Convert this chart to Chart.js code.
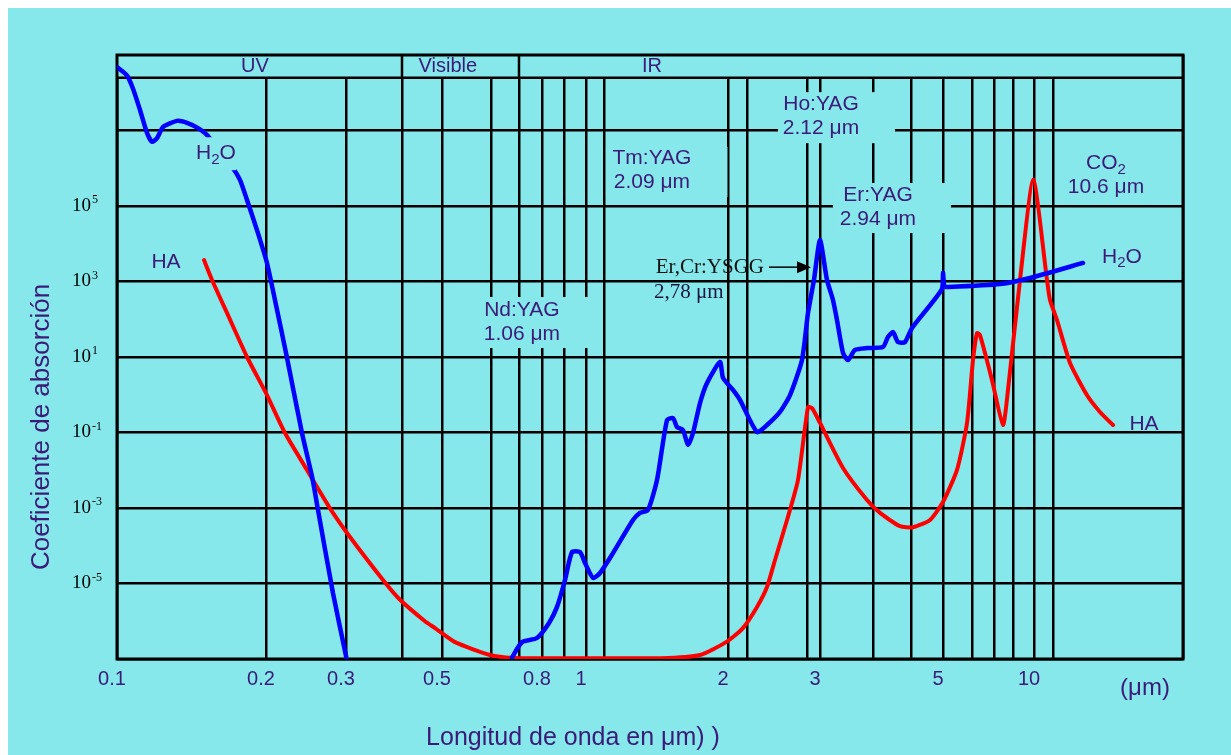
<!DOCTYPE html>
<html>
<head>
<meta charset="utf-8">
<script src="https://cdn.jsdelivr.net/npm/chart.js@4.4.1/dist/chart.umd.min.js"></script>
<style>
    html, body { margin: 0; padding: 0; background: #ffffff; }
    canvas { display: block; }
</style>
</head>
<body>
<canvas id="myChart" width="1231" height="755"></canvas>
<script>
// wavelength (um) and absorption coefficient
const h2o_wl = [0.1, 0.1047, 0.1077, 0.1113, 0.115, 0.1177, 0.1205, 0.1239, 0.1322, 0.1385, 0.1458, 0.152,
    0.1715, 0.1772, 0.1831, 0.1918, 0.201, 0.2093, 0.2223, 0.24, 0.2527, 0.2603, 0.2808, 0.301,
    0.5,
    0.6735, 0.7122, 0.777, 0.8306, 0.867, 0.9043, 0.935, 0.9717, 0.9953, 1.0229, 1.0464, 1.11,
    1.2297, 1.2746, 1.3279, 1.3905, 1.4636, 1.5092, 1.5404, 1.5885, 1.6297, 1.6719, 1.7329, 1.7962,
    1.9199, 1.9496, 2.0257, 2.0623, 2.2006, 2.3058, 2.4503, 2.5677, 2.7157, 2.7963, 2.896, 3.0,
    3.116, 3.219, 3.29, 3.399, 3.492, 3.628, 3.872, 4.126, 4.19, 4.256, 4.322, 4.417, 4.515,
    4.98, 5.0, 5.04, 5.127, 7.3, 9.89, 12.27];
const h2o_abs = [4.8e8, 2.9e8, 1.3e8, 3.5e7, 8.6e6, 5.0e6, 6.3e6, 1.24e7, 1.8e7, 1.6e7, 1.16e7, 7.6e6,
    1.0e6, 4.9e5, 1.44e5, 2.3e4, 3.1e3, 324, 10, 0.097, 6.6e-3, 8.9e-4, 5.6e-6, 1.0e-7,
    null,
    1.1e-7, 2.8e-7, 3.6e-7, 9.0e-7, 2.4e-6, 1.24e-5, 6.8e-5, 6.8e-5, 3.5e-5, 1.4e-5, 1.9e-5, 6.4e-5,
    4.8e-4, 7.4e-4, 8.9e-4, 5.5e-3, 0.214, 0.242, 0.14, 0.116, 0.047, 0.097, 0.6, 2.05,
    7.4, 2.8, 1.34, 0.73, 0.103, 0.158, 0.35, 0.98, 8.3, 147, 1.1e3, 1.26e4,
    1.1e3, 324, 95, 12.8, 8.3, 15.4, 17.3, 18.4, 33.9, 45.9, 24.9, 24.9, 58.6,
    620, 1.7e3, 740, 714, 860, 1.3e3, 3.1e3];

const ha_wl = [0.1499, 0.1556, 0.1668, 0.1831, 0.201, 0.2202, 0.2462, 0.259, 0.2808, 0.3062,
    0.3628, 0.396, 0.4547, 0.4809, 0.5248, 0.598, 0.681, 1.04, 1.419, 1.7329, 1.98, 2.078, 2.2006,
    2.3058, 2.394, 2.532, 2.665, 2.7963, 2.8626, 3.0, 3.399, 3.872, 4.088, 4.349, 4.53, 4.791, 5.0,
    5.46, 5.815, 6.042, 6.214, 6.346, 6.902, 7.457, 7.724, 8.618, 9.92, 10.407, 10.503, 10.81,
    11.52, 12.51, 13.33, 14.21];
const ha_abs = [3.7e3, 1.1e3, 147, 10, 0.98, 0.097, 0.0102, 3.6e-3, 7.4e-4, 1.7e-4,
    1.24e-5, 3.7e-6, 1.0e-6, 6.6e-7, 2.8e-7, 1.28e-7, 1.06e-7, 1.05e-7, 1.05e-7, 1.28e-7, 2.8e-7, 6.6e-7, 2.4e-6,
    8.1e-6, 4.2e-5, 4.8e-4, 5.5e-3, 0.47, 0.445, 0.179, 0.0115, 1.63e-3, 7.4e-4, 3.3e-4, 3.1e-4, 4.8e-4, 1.44e-3,
    0.0102, 0.179, 8.3, 43, 38, 2.46, 0.158, 1.34, 1.1e3, 5.0e5, 1.1e3, 324, 95,
    6.9, 0.98, 0.35, 0.158];

const x_grid = [0.1, 0.2, 0.3, 0.4, 0.5, 0.6, 0.7, 0.8, 0.9, 1, 1.06, 2, 2.1, 2.78, 3, 4, 4.5,
    5, 6, 7, 8, 10, 10.6, 20];
const x_tick_values = [0.1, 0.2, 0.3, 0.5, 0.8, 1, 2, 3, 5, 10];
const x_tick_labels = ['0.1', '0.2', '0.3', '0.5', '0.8', '1', '2', '3', '5', '10'];

const y_grid = [1e-7, 1e-5, 1e-3, 1e-1, 1e1, 1e3, 1e5, 1e7, 1e9];
const y_tick_values = [1e5, 1e3, 1e1, 1e-1, 1e-3, 1e-5];
const y_tick_exps = ['5', '3', '1', '-1', '-3', '-5'];

const band_names = ['UV', 'Visible', 'IR'];
const band_label_at = [0.19, 0.511, 1.355];
const band_edges = [0.4, 0.7];
const band_floor = 2.5e8;

const ink = '#3b1a78';
const panel = '#86e8ea';
const sans = '"Liberation Sans", Arial, sans-serif';
const serif = '"Liberation Serif", "Times New Roman", serif';

// the drawn axis is not a clean log axis, so bend it through these knots
// (value, position along a 1066 wide axis)
const axis_knots = [
    [0.1, 0], [0.2, 149], [0.3, 229], [0.4, 285], [0.5, 325], [0.6, 374], [0.7, 402],
    [0.8, 425], [0.9, 447], [1, 469], [1.06, 487], [2, 611], [2.1, 630], [2.78, 690],
    [3, 703], [4, 756], [4.5, 794], [5, 826], [6, 855], [7, 877], [8, 896],
    [10, 917], [10.6, 936], [20, 1066]
];
const axis_len = 1066;

function warp(v) {
    let i = 0;
    while (i < axis_knots.length - 2 && v > axis_knots[i + 1][0]) i++;
    const [v0, p0] = axis_knots[i];
    const [v1, p1] = axis_knots[i + 1];
    const t = (Math.log10(v) - Math.log10(v0)) / (Math.log10(v1) - Math.log10(v0));
    return (p0 + t * (p1 - p0)) / axis_len;
}

function unwarp(d) {
    const p = d * axis_len;
    let i = 0;
    while (i < axis_knots.length - 2 && p > axis_knots[i + 1][1]) i++;
    const [v0, p0] = axis_knots[i];
    const [v1, p1] = axis_knots[i + 1];
    const t = (p - p0) / (p1 - p0);
    return Math.pow(10, Math.log10(v0) + t * (Math.log10(v1) - Math.log10(v0)));
}

class WarpedLogScale extends Chart.LogarithmicScale {
    static id = 'warpedLog';
    static defaults = Chart.LogarithmicScale.defaults;

    getPixelForValue(value) {
        if (value === null || value === undefined || isNaN(value)) return NaN;
        return this.getPixelForDecimal(warp(value));
    }

    getValueForPixel(pixel) {
        return unwarp(this.getDecimalForPixel(pixel));
    }
}
Chart.register(WarpedLogScale);

// text notes on the plot; box = area wiped clean behind the text (px around the anchor)
const notes = [
    { text: ['H_2O'], x: 0.1585, y: 2.5e6, box: [-18, -16, 20, 17] },
    { text: ['HA'], x: 0.1256, y: 3.3e3 },
    { text: ['Nd:YAG', '1.06 \u03bcm'], x: 0.712, y: 84.5, box: [-42, -25, 73, 26] },
    { text: ['Tm:YAG', '2.09 \u03bcm'], x: 1.355, y: 9.0e5, box: [-46, -23, 75.5, 27] },
    { text: ['Ho:YAG', '2.12 \u03bcm'], x: 3.016, y: 2.4e7, box: [-43, -24, 74, 27] },
    { text: ['Er:YAG', '2.94 \u03bcm'], x: 4.062, y: 9.4e4, box: [-45, -24, 73, 26] },
    { text: ['CO_2', '10.6 \u03bcm'], x: 13.73, y: 6.6e5 },
    { text: ['H_2O'], x: 14.85, y: 4.5e3 },
    { text: ['HA'], x: 16.53, y: 0.168 }
];

function rich_text(ctx, str, x, y, size, family, color, align) {
    // '_' makes the next character a subscript
    let parts = [];
    for (let i = 0; i < str.length; i++) {
        if (str[i] === '_' && i + 1 < str.length) {
            parts.push({ t: str[i + 1], sub: true });
            i++;
        } else if (parts.length && !parts[parts.length - 1].sub) {
            parts[parts.length - 1].t += str[i];
        } else {
            parts.push({ t: str[i], sub: false });
        }
    }
    let total = 0;
    for (let p of parts) {
        ctx.font = (p.sub ? Math.round(size * 0.7) : size) + 'px ' + family;
        p.w = ctx.measureText(p.t).width;
        total += p.w;
    }
    let cx = align === 'left' ? x : (align === 'right' ? x - total : x - total / 2);
    ctx.fillStyle = color;
    ctx.textAlign = 'left';
    ctx.textBaseline = 'middle';
    for (let p of parts) {
        ctx.font = (p.sub ? Math.round(size * 0.7) : size) + 'px ' + family;
        ctx.fillText(p.t, cx, p.sub ? y + size * 0.3 : y);
        cx += p.w;
    }
}

function stroke_line(ctx, x0, y0, x1, y1) {
    ctx.beginPath();
    ctx.moveTo(x0, y0);
    ctx.lineTo(x1, y1);
    ctx.stroke();
}

const frame_plugin = {
    id: 'frame',
    beforeDraw(chart) {
        const ctx = chart.ctx;
        ctx.save();
        ctx.fillStyle = '#ffffff';
        ctx.fillRect(0, 0, chart.width, chart.height);
        ctx.fillStyle = panel;
        ctx.fillRect(8, 8, chart.width - 8, chart.height - 8);
        ctx.restore();
    },
    beforeDatasetsDraw(chart) {
        const { ctx, chartArea: a, scales: { x, y } } = chart;
        const band_y = y.getPixelForValue(band_floor);
        ctx.save();
        ctx.fillStyle = panel;
        ctx.fillRect(a.left, a.top, a.right - a.left, band_y - a.top);
        ctx.strokeStyle = '#000';
        ctx.lineWidth = 2.5;
        stroke_line(ctx, a.left, band_y, a.right, band_y);
        for (let v of band_edges) {
            const px = x.getPixelForValue(v);
            stroke_line(ctx, px, a.top, px, band_y);
        }
        ctx.lineWidth = 3;
        ctx.strokeRect(a.left, a.top, a.right - a.left, a.bottom - a.top);
        for (let i = 0; i < band_names.length; i++) {
            rich_text(ctx, band_names[i], x.getPixelForValue(band_label_at[i]),
                (a.top + band_y) / 2, 20, sans, ink, 'center');
        }
        ctx.restore();
    },
    afterDatasetsDraw(chart) {
        const { ctx, chartArea: a, scales: { x, y } } = chart;
        ctx.save();

        for (let n of notes) {
            const px = x.getPixelForValue(n.x);
            const py = y.getPixelForValue(n.y);
            if (n.box) {
                ctx.fillStyle = panel;
                ctx.fillRect(px + n.box[0], py + n.box[1], n.box[2] - n.box[0], n.box[3] - n.box[1]);
            }
            const first = py - (n.text.length - 1) * 12;
            n.text.forEach((t, i) => rich_text(ctx, t, px, first + i * 24, 21, sans, ink, 'center'));
        }

        // Er,Cr:YSGG pointer at 2.78 um
        const tip_x = x.getPixelForValue(2.78) + 4;
        const tip_y = y.getPixelForValue(2.4e3);
        ctx.strokeStyle = '#000';
        ctx.fillStyle = '#000';
        ctx.lineWidth = 1.5;
        stroke_line(ctx, tip_x - 42, tip_y, tip_x - 12, tip_y);
        ctx.beginPath();
        ctx.moveTo(tip_x, tip_y);
        ctx.lineTo(tip_x - 14, tip_y - 6);
        ctx.lineTo(tip_x - 14, tip_y + 6);
        ctx.closePath();
        ctx.fill();
        rich_text(ctx, 'Er,Cr:YSGG', tip_x - 47, tip_y, 21, serif, '#111111', 'right');
        rich_text(ctx, '2,78 \u03bcm', tip_x - 157, tip_y + 25, 21, serif, '#1c1440', 'left');

        // tick labels
        for (let i = 0; i < x_tick_values.length; i++) {
            rich_text(ctx, x_tick_labels[i], x.getPixelForValue(x_tick_values[i]) - 5,
                a.bottom + 20, 20, sans, ink, 'center');
        }
        rich_text(ctx, '(\u03bcm)', a.right - 38, a.bottom + 29, 24, sans, ink, 'center');

        ctx.textAlign = 'left';
        ctx.textBaseline = 'middle';
        for (let i = 0; i < y_tick_values.length; i++) {
            const py = y.getPixelForValue(y_tick_values[i]);
            ctx.fillStyle = '#000';
            ctx.font = '19px ' + serif;
            ctx.fillText('10', 72, py);
            const w = ctx.measureText('10').width;
            ctx.font = '12px ' + serif;
            ctx.fillText(y_tick_exps[i], 72 + w + 1, py - 6);
        }

        // axis titles
        rich_text(ctx, 'Longitud de onda en \u03bcm) )', 573, a.bottom + 79, 25, sans, ink, 'center');
        ctx.translate(42, (a.top + a.bottom) / 2 + 70);
        ctx.rotate(-Math.PI / 2);
        rich_text(ctx, 'Coeficiente de absorción', 0, 0, 26, sans, ink, 'center');
        ctx.restore();
    }
};

function to_points(xs, ys) {
    return xs.map((v, i) => ({ x: v, y: ys[i] }));
}

const config = {
    type: 'line',
    data: {
        datasets: [
            {
                label: 'H2O',
                data: to_points(h2o_wl, h2o_abs),
                borderColor: '#0000ff',
                borderWidth: 4.5,
                spanGaps: false
            },
            {
                label: 'HA',
                data: to_points(ha_wl, ha_abs),
                borderColor: '#ff0000',
                borderWidth: 4
            }
        ]
    },
    options: {
        responsive: false,
        animation: false,
        layout: { padding: { left: 117, top: 55, right: 48, bottom: 96 } },
        elements: {
            point: { radius: 0 },
            line: { tension: 0.2, borderCapStyle: 'round', borderJoinStyle: 'round' }
        },
        plugins: {
            legend: { display: false },
            tooltip: { enabled: false }
        },
        scales: {
            x: {
                type: 'warpedLog',
                min: 0.1,
                max: 20,
                afterBuildTicks: function(axis) {
                    axis.ticks = x_grid.map(v => ({ value: v }));
                },
                ticks: { display: false },
                grid: { color: '#000', lineWidth: 2.5, drawTicks: false },
                border: { display: false }
            },
            y: {
                type: 'logarithmic',
                min: 1e-7,
                max: 1e9,
                afterBuildTicks: function(axis) {
                    axis.ticks = y_grid.map(v => ({ value: v }));
                },
                ticks: { display: false },
                grid: { color: '#000', lineWidth: 2.5, drawTicks: false },
                border: { display: false }
            }
        }
    },
    plugins: [frame_plugin]
};

window.chart = new Chart(document.getElementById('myChart'), config);
</script>
</body>
</html>
